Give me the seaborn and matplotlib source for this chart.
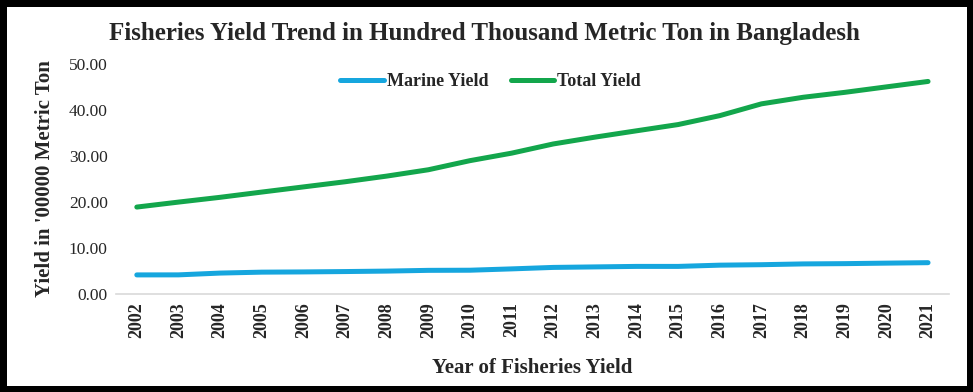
import matplotlib
matplotlib.use("Agg")
import matplotlib.pyplot as plt
import pandas as pd
import seaborn as sns

# Yield data in hundred thousand metric ton
years = list(range(2002, 2022))
marine_yield = [4.15, 4.16, 4.55, 4.75, 4.80, 4.88, 4.98, 5.14, 5.17, 5.46,
                5.78, 5.89, 6.00, 6.00, 6.27, 6.37, 6.54, 6.60, 6.71, 6.81]
total_yield = [18.90, 19.98, 21.02, 22.16, 23.28, 24.40, 25.63, 27.01, 28.99, 30.62,
               32.62, 34.10, 35.48, 36.84, 38.78, 41.34, 42.77, 43.84, 45.03, 46.21]
series_names = ["Marine Yield", "Total Yield"]
colors = ["#16a6de", "#13a64c"]

df = pd.DataFrame({"Year": years * 2,
                   "Yield": marine_yield + total_yield,
                   "Series": [series_names[0]] * len(years) + [series_names[1]] * len(years)})

sns.set_style("white")
plt.rcParams["font.family"] = ["Liberation Serif", "DejaVu Serif"]

fig = plt.figure(figsize=(9.73, 3.92), dpi=100)
ax = fig.add_axes([0.1192, 0.25, 0.856, 0.5867])

sns.lineplot(data=df, x="Year", y="Yield", hue="Series", palette=colors,
             linewidth=3.6, solid_capstyle="round", ax=ax)

ax.set_xlim(2001.5, 2021.5)
ax.set_ylim(0, 50)
ax.set_xticks(years)
ax.set_xticklabels([str(y) for y in years], rotation=90, fontsize=13, fontweight="bold")
ax.set_yticks([0, 10, 20, 30, 40, 50])
ax.set_yticklabels([f"{v:.2f}" for v in [0, 10, 20, 30, 40, 50]], fontsize=12.5)
ax.tick_params(axis="both", length=0, pad=6)

for side in ["top", "right", "left"]:
    ax.spines[side].set_visible(False)
ax.spines["bottom"].set_color("#d9d9d9")
ax.spines["bottom"].set_linewidth(1.2)

ax.set_xlabel("Year of Fisheries Yield", fontsize=15, fontweight="bold", labelpad=14)
ax.set_ylabel("Yield in '00000 Metric Ton", fontsize=15, fontweight="bold", labelpad=10)

leg = ax.legend(loc="upper center", bbox_to_anchor=(0.45, 1.03), ncol=2, frameon=False,
                prop={"weight": "bold", "size": 13}, handlelength=2.4,
                handletextpad=0.2, columnspacing=1.2)

fig.suptitle("Fisheries Yield Trend in Hundred Thousand Metric Ton in Bangladesh",
             x=0.498, y=0.943, fontsize=18, fontweight="bold")

# black frame around the picture
fig.patch.set_edgecolor("black")
fig.patch.set_linewidth(8)

fig.savefig("out.png", dpi=100, edgecolor="black")
